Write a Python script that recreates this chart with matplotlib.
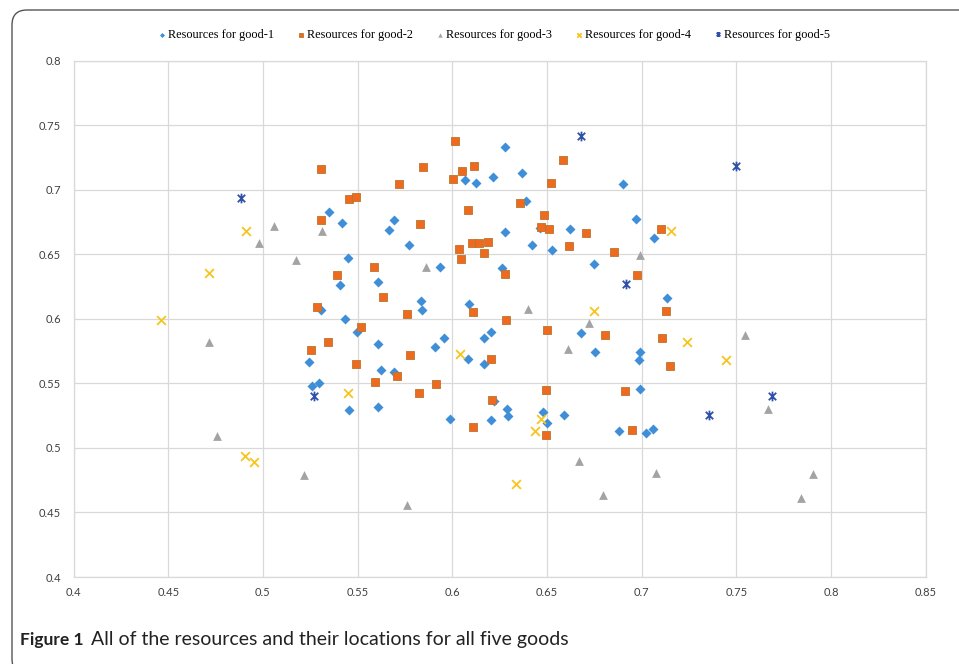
import matplotlib
matplotlib.use("Agg")
import matplotlib.pyplot as plt
import matplotlib.patches as mpatches
from matplotlib.path import Path

# resources for good-1 (blue diamonds)
g1_x = [0.5347, 0.5419, 0.5692, 0.5664, 0.5773, 0.5448, 0.5407, 0.5609, 0.5307, 0.5435,
        0.5495, 0.5609, 0.5245, 0.5259, 0.5295, 0.5455, 0.5609, 0.5622, 0.5691, 0.5833,
        0.5840, 0.5907, 0.5955, 0.5988, 0.6065, 0.6125, 0.6213, 0.6280, 0.6368, 0.6389,
        0.6280, 0.6423, 0.6525, 0.6620, 0.6463, 0.6261, 0.5935, 0.6090, 0.6166, 0.6204,
        0.6166, 0.6085, 0.6206, 0.6222, 0.6287, 0.6294, 0.6477, 0.6498, 0.6588, 0.6680,
        0.6755, 0.6747, 0.6903, 0.6970, 0.7067, 0.7134, 0.6991, 0.6984, 0.6991, 0.6882,
        0.7024, 0.7060]
g1_y = [0.6829, 0.6739, 0.6762, 0.6689, 0.6571, 0.6473, 0.6263, 0.6284, 0.6067, 0.5998,
        0.5899, 0.5801, 0.5662, 0.5481, 0.5502, 0.5293, 0.5314, 0.5600, 0.5585, 0.6137,
        0.6067, 0.5781, 0.5850, 0.5225, 0.7074, 0.7049, 0.7095, 0.7330, 0.7126, 0.6909,
        0.6669, 0.6571, 0.6532, 0.6692, 0.6703, 0.6395, 0.6403, 0.6116, 0.5848, 0.5899,
        0.5651, 0.5690, 0.5215, 0.5360, 0.5298, 0.5244, 0.5277, 0.5194, 0.5254, 0.5887,
        0.5740, 0.6424, 0.7046, 0.6772, 0.6625, 0.6163, 0.5740, 0.5678, 0.5453, 0.5128,
        0.5115, 0.5146]

# resources for good-2 (orange squares)
g2_x = [0.5308, 0.5720, 0.5456, 0.5492, 0.5308, 0.5587, 0.5391, 0.5634, 0.5287, 0.5518,
        0.5762, 0.5344, 0.5256, 0.5493, 0.5708, 0.5777, 0.5594, 0.6014, 0.5844, 0.6053,
        0.6115, 0.6005, 0.6586, 0.6520, 0.6081, 0.6357, 0.6486, 0.6467, 0.6509, 0.6704,
        0.7100, 0.5831, 0.6616, 0.6034, 0.6046, 0.6106, 0.6143, 0.6189, 0.6169, 0.6852,
        0.6277, 0.6973, 0.6108, 0.6283, 0.6500, 0.6806, 0.7128, 0.7107, 0.7150, 0.5824,
        0.5912, 0.6210, 0.6108, 0.6493, 0.6493, 0.6913, 0.6947, 0.6203]
g2_y = [0.7162, 0.7043, 0.6925, 0.6943, 0.6765, 0.6398, 0.6341, 0.6170, 0.6091, 0.5933,
        0.6034, 0.5817, 0.5758, 0.5647, 0.5558, 0.5719, 0.5507, 0.7374, 0.7173, 0.7146,
        0.7183, 0.7082, 0.7227, 0.7054, 0.6845, 0.6894, 0.6803, 0.6713, 0.6695, 0.6666,
        0.6698, 0.6734, 0.6566, 0.6538, 0.6460, 0.6586, 0.6586, 0.6596, 0.6509, 0.6517,
        0.6349, 0.6338, 0.6052, 0.5992, 0.5912, 0.5871, 0.6062, 0.5853, 0.5636, 0.5427,
        0.5497, 0.5368, 0.5161, 0.5448, 0.5099, 0.5440, 0.5140, 0.5685]

# resources for good-3 (grey triangles)
g3_x = [0.5060, 0.5312, 0.4981, 0.5176, 0.4717, 0.5861, 0.6991, 0.6401, 0.6720, 0.6612,
        0.7545, 0.4758, 0.5217, 0.5759, 0.6667, 0.6796, 0.7075, 0.7668, 0.7903, 0.7843]
g3_y = [0.6718, 0.6679, 0.6589, 0.6452, 0.5817, 0.6403, 0.6491, 0.6073, 0.5964, 0.5765,
        0.5874, 0.5091, 0.4789, 0.4561, 0.4895, 0.4637, 0.4802, 0.5300, 0.4797, 0.4609]

# resources for good-4 (yellow crosses)
g4_x = [0.4912, 0.4717, 0.4460, 0.5448, 0.4906, 0.4955, 0.6041, 0.6470, 0.6435, 0.6335,
        0.6747, 0.7153, 0.7241, 0.7445]
g4_y = [0.6679, 0.6352, 0.5990, 0.5422, 0.4936, 0.4888, 0.5729, 0.5225, 0.5128, 0.4720,
        0.6060, 0.6679, 0.5817, 0.5678]

# resources for good-5 (dark blue stars)
g5_x = [0.4886, 0.6680, 0.6917, 0.7498, 0.5270, 0.7355, 0.7690]
g5_y = [0.6937, 0.7418, 0.6266, 0.7185, 0.5401, 0.5252, 0.5401]

labels = ["Resources for good-1", "Resources for good-2", "Resources for good-3",
          "Resources for good-4", "Resources for good-5"]
x_ticks = [0.4, 0.45, 0.5, 0.55, 0.6, 0.65, 0.7, 0.75, 0.8, 0.85]
x_tick_labels = ["0.4", "0.45", "0.5", "0.55", "0.6", "0.65", "0.7", "0.75", "0.8", "0.85"]
y_ticks = [0.4, 0.45, 0.5, 0.55, 0.6, 0.65, 0.7, 0.75, 0.8]
y_tick_labels = ["0.4", "0.45", "0.5", "0.55", "0.6", "0.65", "0.7", "0.75", "0.8"]

# x with a vertical bar, like the excel star marker
star = Path([(-1, -1), (1, 1), (-1, 1), (1, -1), (0, -1.3), (0, 1.3)],
            [Path.MOVETO, Path.LINETO, Path.MOVETO, Path.LINETO, Path.MOVETO, Path.LINETO])

fig = plt.figure(figsize=(9.59, 6.64), dpi=100)
ax = fig.add_axes([73.5 / 959, 1 - 577 / 664, (925.7 - 73.5) / 959, (577 - 60.5) / 664])

ax.scatter(g1_x, g1_y, marker="D", s=26, color="#3F8ED8", linewidths=0, label=labels[0], zorder=3)
ax.scatter(g2_x, g2_y, marker="s", s=34, color="#EF6A1E", edgecolors="#B8762E", linewidths=0.6,
           label=labels[1], zorder=3)
ax.scatter(g3_x, g3_y, marker="^", s=40, color="#A3A3A3", linewidths=0, label=labels[2], zorder=3)
ax.scatter(g4_x, g4_y, marker="x", s=40, color="#F7C51E", linewidths=1.3, label=labels[3], zorder=3)
ax.plot(g5_x, g5_y, linestyle="none", marker=star, markersize=7, markeredgewidth=1.3,
        color="#2F52A8", label=labels[4], zorder=3)

ax.set_xlim(0.4, 0.85)
ax.set_ylim(0.4, 0.8)
ax.set_xticks(x_ticks)
ax.set_xticklabels(x_tick_labels)
ax.set_yticks(y_ticks)
ax.set_yticklabels(y_tick_labels)
ax.tick_params(length=0, labelsize=8, labelcolor="#404040")
ax.tick_params(axis="y", pad=9)
ax.tick_params(axis="x", pad=7)
for lab in ax.get_xticklabels() + ax.get_yticklabels():
    lab.set_family("Lato")
ax.grid(True, color="#D9D9D9", linewidth=0.9, zorder=0)
for sp in ax.spines.values():
    sp.set_color("#D9D9D9")
    sp.set_linewidth(0.9)

fig.legend(loc="center", bbox_to_anchor=(0.5146, 1 - 35 / 664), ncol=5, frameon=False,
           prop={"family": "Liberation Serif", "size": 8.8}, markerscale=0.5,
           handlelength=0.8, handletextpad=0.1, columnspacing=1.8)

# rounded frame around the figure
frame = mpatches.FancyBboxPatch((0.12, -0.1), 10.0, 6.64,
                                boxstyle="round,pad=0,rounding_size=0.15",
                                transform=fig.dpi_scale_trans, fill=False,
                                edgecolor="#555555", linewidth=1.0)
fig.patches.append(frame)

fig.text(20 / 959, 1 - 640 / 664, "Figure 1", family="Lato", weight="bold", size=12.5,
         va="center", ha="left", color="#222222")
fig.text(91 / 959, 1 - 640 / 664, "All of the resources and their locations for all five goods",
         family="Lato", size=14, va="center", ha="left", color="#222222")

fig.savefig("out.png", dpi=100)
